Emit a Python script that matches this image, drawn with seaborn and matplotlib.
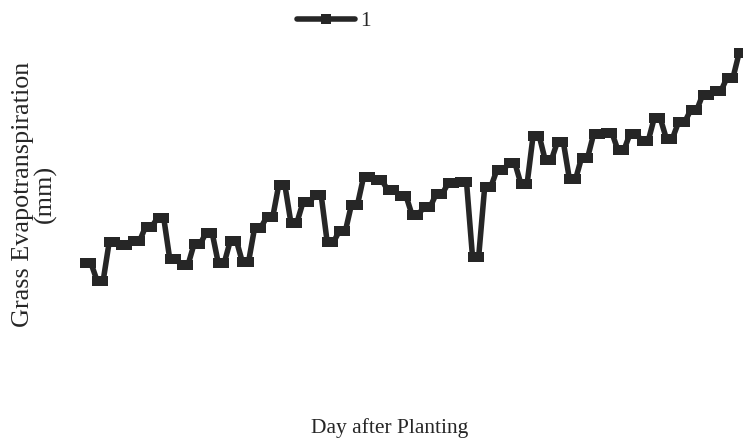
import matplotlib
matplotlib.use("Agg")
import matplotlib.pyplot as plt
import numpy as np
import pandas as pd
import seaborn as sns

# daily grass ET (values come in pairs)
et_mm = [
    2.61, 2.61, 2.32, 2.32, 2.97, 2.97, 2.92, 2.92, 2.98, 2.98,
    3.22, 3.22, 3.37, 3.37, 2.68, 2.68, 2.58, 2.58, 2.93, 2.93,
    3.12, 3.12, 2.62, 2.62, 2.99, 2.99, 2.63, 2.63, 3.20, 3.20,
    3.38, 3.38, 3.92, 3.92, 3.29, 3.29, 3.63, 3.63, 3.75, 3.75,
    2.96, 2.96, 3.15, 3.15, 3.59, 3.59, 4.05, 4.05, 4.00, 4.00,
    3.83, 3.83, 3.74, 3.74, 3.42, 3.42, 3.55, 3.55, 3.77, 3.77,
    3.95, 3.95, 3.97, 3.97, 2.71, 2.71, 3.88, 3.88, 4.16, 4.16,
    4.28, 4.28, 3.93, 3.93, 4.74, 4.74, 4.33, 4.33, 4.63, 4.63,
    4.01, 4.01, 4.37, 4.37, 4.77, 4.77, 4.79, 4.79, 4.50, 4.50,
    4.77, 4.77, 4.65, 4.65, 5.03, 5.03, 4.69, 4.69, 4.96, 4.96,
    5.16, 5.16, 5.42, 5.42, 5.48, 5.48, 5.70, 5.70, 6.11,
]
days = list(range(1, len(et_mm) + 1))
series_name = "1"

df = pd.DataFrame({"day": days, "et": et_mm, "series": series_name})

sns.set_theme(style="white")
plt.rcParams["font.family"] = ["Liberation Serif", "DejaVu Serif"]

W, H = 743, 441
fig = plt.figure(figsize=(W / 100, H / 100), dpi=100)
# axes spans pixel x 70..743, y 40..400
ax = fig.add_axes([70 / W, 1 - 400 / H, (W - 70) / W, 360 / H])

sns.lineplot(
    data=df, x="day", y="et", hue="series", palette=["#262626"],
    marker="s", markersize=6.5, markeredgewidth=0, linewidth=4,
    ax=ax, legend=False,
)

px = (days[-1] - days[0]) / (739 - 85)
ax.set_xlim(days[0] - (85 - 70) * px, days[-1] + (743 - 739) * px)
ax.set_ylim(20 / 60, 380 / 60)
ax.set_axis_off()

fig.text(34.5 / W, 1 - 194 / H, "Grass Evapotranspiration\n(mm)",
         rotation=90, ha="center", va="center", multialignment="center",
         fontsize=18.8, linespacing=0.95)
fig.text(390 / W, 1 - 428 / H, "Day after Planting",
         ha="center", va="center", fontsize=15.5)

handle = plt.Line2D([], [], color="#262626", marker="s", markersize=6.5,
                    markeredgewidth=0, linewidth=4)
fig.legend([handle], [series_name], loc="center",
           bbox_to_anchor=(334 / W, 1 - 21 / H), frameon=False,
           fontsize=15.5, handlelength=2.65, handletextpad=0.25)

fig.savefig("out.png", dpi=100)
